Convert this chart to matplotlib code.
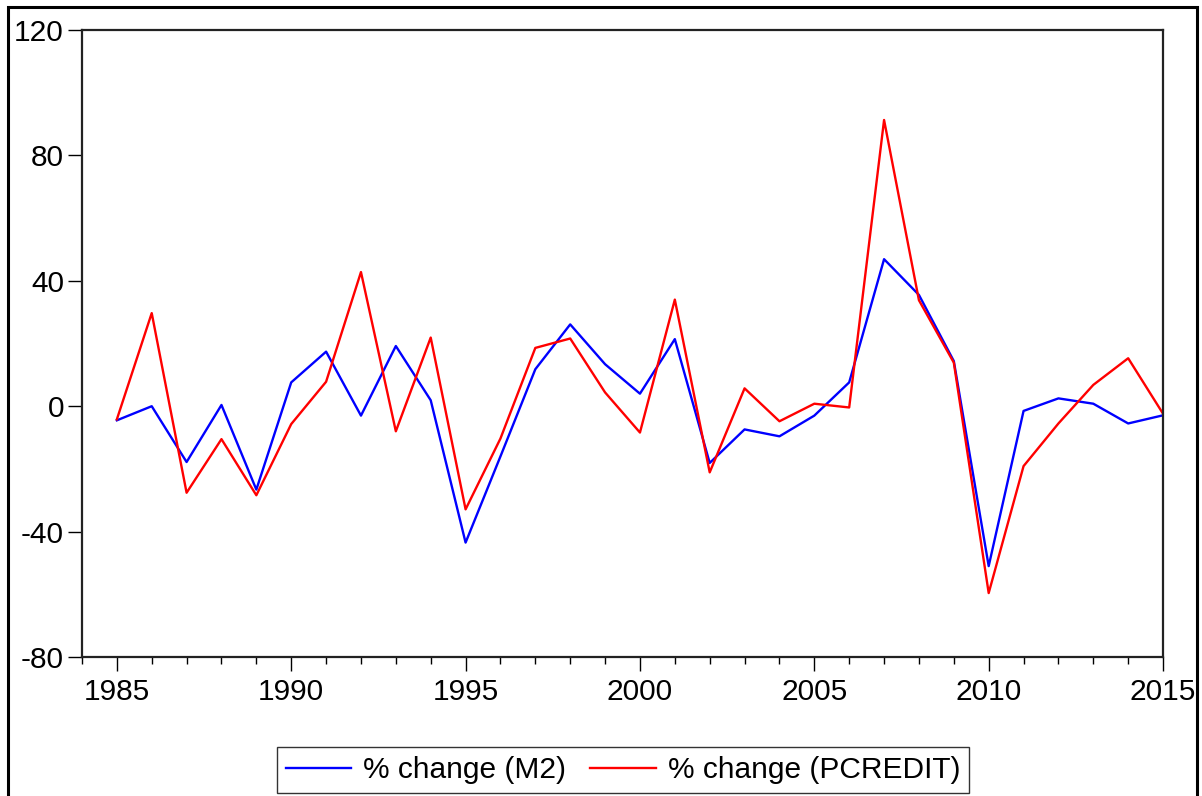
import matplotlib.pyplot as plt
from matplotlib.patches import Rectangle
import numpy as np

plt.rcParams['font.family'] = ['Liberation Sans', 'DejaVu Sans']
plt.rcParams['axes.unicode_minus'] = False

years = list(range(1985, 2016))
m2 = [-4.5, 0.0, -17.8, 0.4, -26.6, 7.6, 17.4, -3.0, 19.2, 1.9,
      -43.5, -16.0, 11.8, 26.1, 13.4, 4.0, 21.4, -18.1, -7.4, -9.6,
      -3.0, 7.6, 46.9, 35.5, 14.4, -51.0, -1.5, 2.5, 0.8, -5.5, -2.9]
pcredit = [-4.2, 29.7, -27.6, -10.5, -28.4, -5.7, 7.8, 42.8, -8.0, 21.9,
           -32.9, -10.3, 18.6, 21.6, 4.4, -8.4, 34.0, -21.1, 5.7, -4.8,
           0.8, -0.4, 91.3, 33.8, 13.9, -59.6, -19.1, -5.5, 6.8, 15.3, -2.4]
labels = ['% change (M2)', '% change (PCREDIT)']

fig = plt.figure(figsize=(12.02, 7.96), dpi=100)
ax = fig.add_axes([0.0682, 0.1746, 0.8994, 0.7877])

ax.plot(years, m2, color='#0000ff', lw=1.7, label=labels[0])
ax.plot(years, pcredit, color='#ff0000', lw=1.7, label=labels[1])

ax.set_xlim(1984, 2015)
ax.set_ylim(-80, 120)
ax.set_yticks([-80, -40, 0, 40, 80, 120])
ax.set_xticks(range(1985, 2016, 5))
ax.set_xticks(range(1984, 2016), minor=True)
ax.tick_params(axis='both', which='major', direction='out', labelsize=21.5,
               width=1, color='black')
ax.tick_params(axis='y', length=10, pad=3)
ax.tick_params(axis='x', which='major', length=10, pad=5)
ax.tick_params(axis='x', which='minor', length=5, width=1)
ax.tick_params(axis='y', which='minor', left=False)
for s in ax.spines.values():
    s.set_linewidth(1.6)
    s.set_color('#222222')

# outer frame around the graph
fig.patches.append(Rectangle((8 / 1202, -0.05), 1189 / 1202, 1.05 - 7 / 796,
                             transform=fig.transFigure, fill=False,
                             edgecolor='black', lw=2.2, clip_on=False))

leg = fig.legend(loc='center', bbox_to_anchor=(623 / 1202, 1 - 770 / 796),
                 ncol=2, fontsize=21.5, frameon=True, fancybox=False,
                 edgecolor='black', handlelength=2.2, handletextpad=0.4,
                 columnspacing=0.8, borderpad=0.3)
leg.get_frame().set_linewidth(1.0)

fig.savefig('out.png', dpi=100)
